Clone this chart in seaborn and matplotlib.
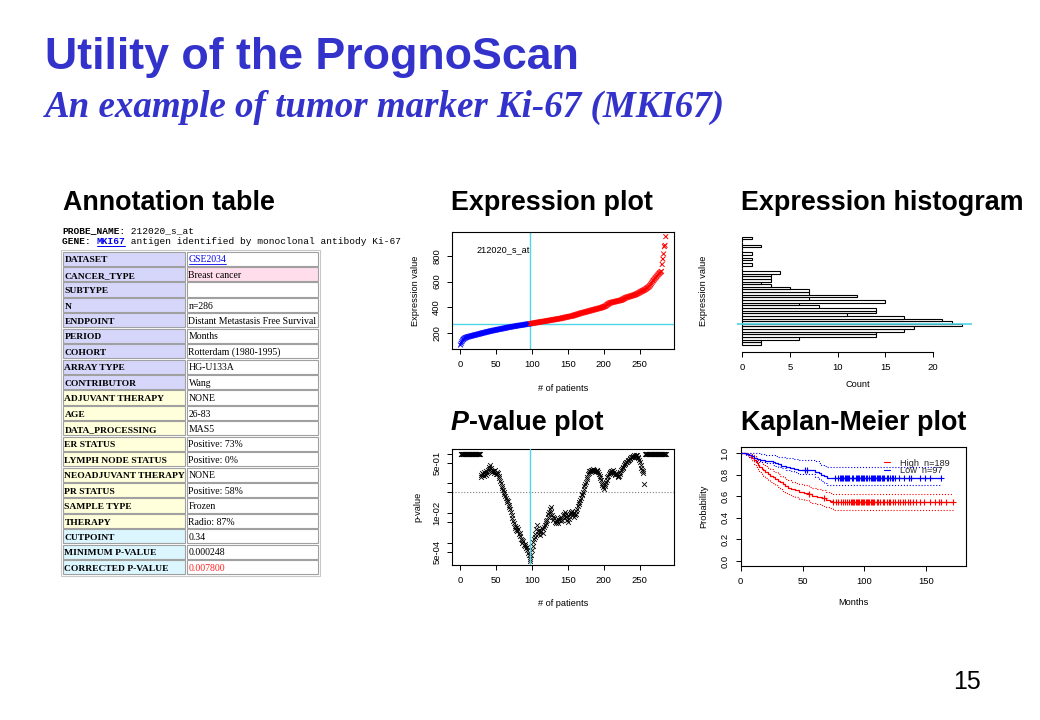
import numpy as np
import pandas as pd
import matplotlib
matplotlib.use("Agg")
import matplotlib.pyplot as plt
from matplotlib.patches import Rectangle
from matplotlib.lines import Line2D
from matplotlib.ticker import NullLocator, FixedLocator, FixedFormatter
import seaborn as sns

# ---------------------------------------------------------------- data
title_text = "Utility of the PrognoScan"
subtitle_text = "An example of tumor marker Ki-67 (MKI67)"
page_number = "15"

probe_name = "212020_s_at"
gene_symbol = "MKI67"
gene_desc = " antigen identified by monoclonal antibody Ki-67"

table_labels = ["DATASET", "CANCER_TYPE", "SUBTYPE", "N", "ENDPOINT", "PERIOD",
                "COHORT", "ARRAY TYPE", "CONTRIBUTOR", "ADJUVANT THERAPY", "AGE",
                "DATA_PROCESSING", "ER STATUS", "LYMPH NODE STATUS",
                "NEOADJUVANT THERAPY", "PR STATUS", "SAMPLE TYPE", "THERAPY",
                "CUTPOINT", "MINIMUM P-VALUE", "CORRECTED P-VALUE"]
table_values = ["GSE2034", "Breast cancer", "", "n=286",
                "Distant Metastasis Free Survival", "Months",
                "Rotterdam (1980-1995)", "HG-U133A", "Wang", "NONE", "26-83",
                "MAS5", "Positive: 73%", "Positive: 0%", "NONE", "Positive: 58%",
                "Frozen", "Radio: 87%", "0.34", "0.000248", "0.007800"]

# sorted expression values of the 286 patients
expression = [
    105, 119, 131, 142, 149, 154, 158, 161, 163, 166,
    168, 169, 171, 172, 174, 175, 177, 178, 180, 181, 183, 184, 185, 187,
    188, 190, 191, 193, 194, 196, 197, 199, 200, 201, 203, 204, 206, 207,
    208.5, 210, 211, 212, 214, 215, 216, 217, 219, 220, 221, 222, 223, 225, 226, 227, 228,
    229, 230, 231, 232, 234, 235, 236, 237, 238, 240, 241, 242, 243, 244, 245, 246, 247, 248,
    249.5, 250, 251, 252, 253, 254, 255, 256, 257, 258, 259, 259.5, 260, 261, 262, 263,
    264, 265, 266, 267, 268, 268.5, 269.5,
    270.5, 271, 272, 273, 274, 275, 276, 277, 278, 279, 280, 281, 282, 283, 284, 285,
    286, 287, 288, 289, 289.5, 290,
    291, 292, 293.5, 294, 295, 296.5, 297, 298, 299.5, 300, 301, 302.5, 303, 304, 305.5,
    306, 307, 308.5, 309, 310, 310.5,
    312, 313, 314.5, 316, 317, 318.5, 320, 321, 322, 323.5, 325, 326, 327, 328, 329, 330, 331,
    333, 335, 337, 338.5, 340, 342, 344, 345.5, 347, 349, 351,
    353, 354.5, 356, 357, 358.5, 360, 361.5, 363, 364.5, 366, 367.5, 369, 370.5, 372,
    374, 375.5, 377, 378.5, 380, 381.5, 383, 384.5, 386, 387.5, 389, 390.5, 392, 393,
    395, 397, 399, 401, 403, 405.5, 408, 411,
    416, 420, 424, 428, 431, 434,
    435.5, 437, 438, 439.5, 441, 442, 443.5, 445, 446, 447.5, 449, 450, 451.5, 453, 454.5,
    457, 460, 463, 466, 469, 472, 475,
    477, 478.5, 480, 482, 484, 485.5, 487, 489, 490.5, 492, 494, 496,
    498, 501, 504, 507, 510, 513, 516,
    519, 522, 525, 528, 531, 534, 537,
    540, 545, 549, 553, 557,
    562, 569, 576,
    585, 594,
    603, 609, 616,
    624, 630, 637,
    644, 651, 658,
    664, 669, 674, 679,
    733, 775, 815, 872, 882, 950]
n_low = 97
n_high = 189
cut_expression = 270
cut_index = 97
hist_bins = 41

# log10 p-value for every cut index 1..286
log10_pvalue = ([0.0] * 28 + [
    -0.72, -0.78, -0.66, -0.70, -0.62, -0.74, -0.68, -0.60, -0.71, -0.64, -0.55, -0.45,
    -0.52, -0.40, -0.58, -0.50, -0.63, -0.57, -0.66, -0.60, -0.55, -0.68,
    -0.62, -0.70, -0.66, -0.75, -0.82, -0.92, -1.00, -1.08, -1.15, -1.22,
    -1.30, -1.36, -1.42, -1.50, -1.56, -1.62, -1.58, -1.72, -1.80, -1.88,
    -1.98, -2.08, -2.18, -2.26, -2.35, -2.44, -2.52, -2.58, -2.48, -2.62,
    -2.55, -2.70, -2.66, -2.78, -2.86, -2.92, -3.00, -2.95, -3.08, -3.12,
    -3.05, -3.18, -3.25, -3.15, -3.35, -3.42, -3.55, -3.606, -3.40, -3.25,
    -3.10, -2.98, -2.88, -2.80, -2.72, -2.55, -2.40, -2.62, -2.70, -2.58,
    -2.65, -2.75, -2.60, -2.52, -2.66, -2.55, -2.48, -2.42, -2.35, -2.28,
    -2.22, -2.15, -2.05, -1.95, -1.85, -1.80, -1.98, -2.08, -2.15, -2.22,
    -2.18, -2.30, -2.25, -2.35, -2.28, -2.20, -2.32, -2.24, -2.18, -2.26,
    -2.12, -2.22, -2.08, -2.16, -2.02, -1.95, -2.05, -2.15, -2.25, -2.30,
    -2.20, -2.10, -2.02, -1.95, -2.00, -1.92, -2.05, -2.12, -2.00, -2.08,
    -2.02, -1.92, -1.85, -1.78, -1.70, -1.62, -1.55, -1.48, -1.40, -1.35,
    -1.28, -1.20, -1.10, -1.02, -0.95, -0.85, -0.78, -0.70, -0.65, -0.60,
    -0.58, -0.55, -0.60, -0.56, -0.52, -0.58, -0.55, -0.62, -0.57, -0.60,
    -0.55, -0.62, -0.68, -0.75, -0.82, -0.90, -0.98, -1.05, -1.12, -1.18,
    -1.10, -1.02, -0.95, -0.88, -0.80, -0.75, -0.70, -0.65, -0.62, -0.58,
    -0.64, -0.60, -0.55, -0.62, -0.68, -0.72, -0.65, -0.70, -0.76, -0.80,
    -0.74, -0.68, -0.62, -0.56, -0.52, -0.48, -0.44, -0.40, -0.36, -0.33,
    -0.30, -0.28, -0.25, -0.22, -0.20, -0.18, -0.15, -0.13, -0.10, -0.12,
    -0.08, -0.06, -0.10, -0.05, -0.08, -0.04, -0.10, -0.15, -0.22, -0.30,
    -0.40, -0.48, -0.55, -0.60, -0.66, -1.02] + [0.0] * 30)
p_threshold = 0.05
p_ticks = [1, 0.5, 0.1, 0.05, 0.01, 0.005, 0.001, 0.0005]
p_ticklabels = ["", "5e-01", "", "", "1e-02", "", "", "5e-04"]

# Kaplan-Meier curves (months, survival, 95% CI)
low_times = [0, 4, 7, 9, 11, 13, 16, 20, 26, 28, 30, 33, 37, 40, 43, 46, 60, 63, 65, 67, 70, 162]
low_surv = [1.0, .99, .979, .969, .958, .948, .938, .927, .917, .906, .896, .885, .875, .865,
            .854, .843, .829, .815, .801, .787, .774, .774]
low_upper = [1.0, 1.0, 1.0, 1.0, 1.0, .998, .993, .987, .979, .973, .968, .962, .956, .951,
             .945, .938, .925, .905, .89, .878, .868, .868]
low_lower = [1.0, .98, .965, .952, .94, .929, .918, .906, .894, .882, .871, .859, .847, .835,
             .823, .811, .78, .76, .74, .72, .70, .70]
low_censor = [52, 54, 76, 79, 80, 81, 82, 83, 84, 85, 86, 87, 88, 90, 91, 93, 94, 95, 96, 97,
              98, 99, 100, 101, 102, 104, 105, 106, 107, 108, 109, 110, 111, 112, 113, 114,
              115, 116, 118, 119, 121, 122, 123, 125, 128, 132, 136, 138, 145, 149, 153, 162]

high_times = [0, 4, 6, 8, 9, 11, 12, 13, 14, 15, 17, 18, 20, 22, 24, 26, 28, 30, 32, 34,
              36, 38, 41, 44, 47, 51, 55, 58, 62, 66, 69, 72, 75, 172]
high_surv = [1.0, .995, .984, .968, .952, .936, .92, .904, .888, .872, .856, .84, .824, .808,
             .792, .776, .76, .744, .728, .712, .696, .68, .667, .654, .641, .629, .617, .605,
             .593, .581, .569, .557, .545, .545]
high_upper = [1.0, 1.0, 1.0, .993, .983, .971, .959, .946, .933, .919, .906, .892, .878, .864,
              .85, .836, .821, .807, .792, .778, .763, .748, .736, .724, .712, .701, .689, .678,
              .666, .655, .644, .633, .622, .622]
high_lower = [1.0, .985, .966, .944, .923, .902, .882, .863, .844, .826, .807, .789, .771, .753,
              .736, .719, .701, .684, .667, .65, .633, .617, .603, .589, .576, .563, .55, .537,
              .524, .511, .499, .487, .475, .475]
high_censor = [55, 67, 75, 77, 79, 81, 83, 84, 86, 88, 89, 90, 91, 92, 93, 94, 95, 96, 97, 98,
               99, 100, 101, 102, 103, 104, 105, 106, 107, 108, 110, 111, 113, 115, 116, 118,
               120, 121, 123, 125, 127, 129, 131, 133, 135, 137, 139, 142, 145, 148, 153, 157,
               160, 162, 166, 172]
km_labels = [f"High  n={n_high}", f"Low  n={n_low}"]

# ---------------------------------------------------------------- style
sns.set_theme(style="white")
plt.rcParams['font.family'] = ['Liberation Sans', 'DejaVu Sans']
BLUE_T = '#3333CC'
CYAN = '#4FD6E8'
W, H = 1040, 720
TICK_FS = 6.8
LAB_FS = 6.6

fig = plt.figure(figsize=(W / 100, H / 100), dpi=100)
fig.patch.set_facecolor('white')
ov = fig.add_axes([0, 0, 1, 1])
ov.set_xlim(0, W)
ov.set_ylim(H, 0)
ov.axis('off')
renderer = fig.canvas.get_renderer()


def fit_text(x, y, s, width, **kw):
    t = ov.text(x, y, s, va='baseline', **kw)
    w = t.get_window_extent(renderer).width
    t.set_fontsize(t.get_fontsize() * width / w)
    return t


def px_rect(x0, y0, x1, y1):
    return [x0 / W, 1 - y1 / H, (x1 - x0) / W, (y1 - y0) / H]


# titles
fit_text(45, 69, title_text, 535, fontsize=30, fontweight='bold', color=BLUE_T,
         family='Liberation Sans')
fit_text(45, 117, subtitle_text, 682, fontsize=28, fontweight='bold', style='italic',
         color=BLUE_T, family='Liberation Serif')

hdr = fit_text(741, 210, "Expression histogram", 282, fontsize=19, fontweight='bold',
               color='black', family='Liberation Sans')
hfs = hdr.get_fontsize()
hkw = dict(fontsize=hfs, fontweight='bold', color='black', family='Liberation Sans', va='baseline')
ov.text(63, 210, "Annotation table", **hkw)
ov.text(451, 210, "Expression plot", **hkw)
tp = ov.text(451, 430, "P", style='italic', **hkw)
wp = tp.get_window_extent(renderer).width
ov.text(451 + wp, 430, "-value plot", **hkw)
ov.text(741, 430, "Kaplan-Meier plot", **hkw)
ov.text(981, 689, page_number, fontsize=18, ha='right', va='baseline', color='black',
        family='Liberation Sans')

# ---------------------------------------------------------------- annotation table
mono = dict(fontsize=6.8, family='Liberation Mono', va='baseline', color='black')
probe_lbl = "PROBE_NAME:"
tt = ov.text(62, 233, "M" * 10, alpha=0, **mono)
cw = tt.get_window_extent(renderer).width / 10
ov.text(62, 233, probe_lbl, fontweight='bold', **mono)
ov.text(62 + len(probe_lbl) * cw, 233, " " + probe_name, **mono)
gene_lbl = "GENE: "
ov.text(62, 244.5, gene_lbl, fontweight='bold', **mono)
gx = 62 + len(gene_lbl) * cw
mono_b = dict(mono)
mono_b['color'] = '#0000EE'
ov.text(gx, 244.5, gene_symbol, fontweight='bold', **mono_b)
ov.plot([gx, gx + len(gene_symbol) * cw], [246, 246], color='#0000EE', lw=0.7)
ov.text(gx + len(gene_symbol) * cw, 244.5, gene_desc, **mono)

label_colors = ['#D6D6FA'] * 9 + ['#FFFFDC'] * 9 + ['#DCF6FF'] * 3
value_colors = ['white', '#FFDDEB'] + ['white'] * 19
value_text_colors = ['#0000EE'] + ['black'] * 19 + ['#FF2020']
top, pitch = 251.0, 15.43
c0, c1, c2 = 62.5, 186.0, 318.5
ov.add_patch(Rectangle((61.3, top - 1.2), c2 - 61.3 + 1.2, pitch * len(table_labels) + 2.2,
                       facecolor='none', edgecolor='#C8C8C8', lw=0.8))
for i, (lab, val) in enumerate(zip(table_labels, table_values)):
    y0 = top + i * pitch
    ov.add_patch(Rectangle((c0, y0 + 0.5), c1 - c0 - 1.0, pitch - 1.2,
                           facecolor=label_colors[i], edgecolor='#A0A0A0', lw=0.8))
    ov.add_patch(Rectangle((c1 + 0.5, y0 + 0.5), c2 - c1 - 1.0, pitch - 1.2,
                           facecolor=value_colors[i], edgecolor='#A0A0A0', lw=0.8))
    ov.text(c0 + 2, y0 + 11.3, lab, fontsize=6.8, fontweight='bold', family='Liberation Serif',
            va='baseline', color='black')
    tv = ov.text(c1 + 2.5, y0 + 11.3, val, fontsize=7, family='Liberation Serif',
                 va='baseline', color=value_text_colors[i])
    if i == 0:
        wv = tv.get_window_extent(renderer).width
        ov.plot([c1 + 2.5, c1 + 2.5 + wv], [y0 + 12.6, y0 + 12.6], color='#0000EE', lw=0.6)


# ---------------------------------------------------------------- helpers for R-like axes
def r_axes(ax, box=True):
    for s in ax.spines.values():
        s.set_color('black')
        s.set_linewidth(0.8)
        s.set_visible(box)
    ax.set_facecolor('white')
    ax.tick_params(axis='both', direction='out', length=3.5, width=0.7, color='black',
                   labelsize=TICK_FS, pad=4.5, labelcolor='black', bottom=True, left=True)
    ax.tick_params(axis='y', labelrotation=90)
    for lab in ax.get_yticklabels():
        lab.set_va('center')
    ax.grid(False)


def labels(ax, xl, yl, xpos, ypos):
    ax.set_xlabel(xl, fontsize=LAB_FS, color='black', va='center')
    ax.set_ylabel(yl, fontsize=LAB_FS, color='black', va='center')
    ax.xaxis.set_label_coords(*xpos)
    ax.yaxis.set_label_coords(*ypos)


expr = np.array(expression, dtype=float)
idx = np.arange(1, len(expr) + 1)
rng = expr.max() - expr.min()
ylim_expr = (expr.min() - 0.04 * rng, expr.max() + 0.04 * rng)
xlim_idx = (1 - 0.04 * (len(expr) - 1), len(expr) + 0.04 * (len(expr) - 1))

# ---------------------------------------------------------------- expression plot
ax1 = fig.add_axes(px_rect(452.3, 232.3, 674, 349.3))
df_e = pd.DataFrame({'patient': idx, 'expr': expr,
                     'group': np.where(idx <= n_low, 'Low', 'High')})
sns.scatterplot(data=df_e, x='patient', y='expr', hue='group',
                palette={'Low': '#0000FF', 'High': '#FF0000'}, marker='x', s=12,
                linewidth=0.7, legend=False, ax=ax1, zorder=3)
ax1.axvline(cut_index, color=CYAN, lw=1.0, zorder=2)
ax1.axhline(cut_expression, color=CYAN, lw=1.0, zorder=2)
ax1.set_xlim(*xlim_idx)
ax1.set_ylim(*ylim_expr)
ax1.set_xticks([0, 50, 100, 150, 200, 250])
ax1.set_yticks([200, 400, 600, 800])
ax1.text(0.107, 0.853, probe_name, transform=ax1.transAxes, fontsize=6.6, va='center',
         color='black')
r_axes(ax1)
labels(ax1, "# of patients", "Expression value", (0.5, -0.333), (-0.168, 0.5))

# ---------------------------------------------------------------- histogram
ax2 = fig.add_axes(px_rect(737, 232.3, 972, 349.3))
sns.histplot(y=expr, bins=hist_bins, color='white', edgecolor='black', linewidth=0.8,
             alpha=1, ax=ax2)
ax2.axhline(cut_expression, color=CYAN, lw=1.2, zorder=5)
ax2.set_xlim(-0.556, 24.1)
ax2.set_ylim(*ylim_expr)
ax2.set_xticks([0, 5, 10, 15, 20])
ax2.set_yticks([])
r_axes(ax2, box=False)
ax2.spines['bottom'].set_visible(True)
ax2.spines['bottom'].set_bounds(0, 20)
ax2.spines['bottom'].set_position(('outward', 1.7))
ax2.tick_params(axis='y', left=False)
labels(ax2, "Count", "Expression value", (0.515, -0.305), (-0.143, 0.5))

# ---------------------------------------------------------------- p-value plot
ax3 = fig.add_axes(px_rect(452.3, 449.3, 674, 565))
lp = np.array(log10_pvalue)
pv = 10 ** lp
sns.scatterplot(x=idx, y=pv, marker='x', color='black', s=12, linewidth=0.6,
                legend=False, ax=ax3, zorder=3)
ax3.set_yscale('log')
lrng = lp.max() - lp.min()
ax3.set_ylim(10 ** (lp.min() - 0.04 * lrng), 10 ** (lp.max() + 0.04 * lrng))
ax3.set_xlim(*xlim_idx)
ax3.axhline(p_threshold, color='#808080', ls=':', lw=0.8, zorder=2)
ax3.axvline(cut_index, color=CYAN, lw=1.0, zorder=4)
ax3.yaxis.set_major_locator(FixedLocator(p_ticks))
ax3.yaxis.set_major_formatter(FixedFormatter(p_ticklabels))
ax3.yaxis.set_minor_locator(NullLocator())
ax3.set_xticks([0, 50, 100, 150, 200, 250])
r_axes(ax3)
labels(ax3, "# of patients", "p-value", (0.5, -0.331), (-0.153, 0.5))

# ---------------------------------------------------------------- Kaplan-Meier plot
ax4 = fig.add_axes(px_rect(740.7, 447.3, 965.7, 566))
for times, surv, up, lo, cens, col in [
        (high_times, high_surv, high_upper, high_lower, high_censor, '#FF0000'),
        (low_times, low_surv, low_upper, low_lower, low_censor, '#0000FF')]:
    km = pd.DataFrame({'t': times, 's': surv, 'u': up, 'l': lo})
    sns.lineplot(data=km, x='t', y='s', drawstyle='steps-post', color=col, lw=0.9,
                 estimator=None, ax=ax4, zorder=3)
    sns.lineplot(data=km, x='t', y='u', drawstyle='steps-post', color=col, lw=0.8,
                 linestyle=':', estimator=None, ax=ax4, zorder=2)
    sns.lineplot(data=km, x='t', y='l', drawstyle='steps-post', color=col, lw=0.8,
                 linestyle=':', estimator=None, ax=ax4, zorder=2)
    ct = np.array(cens, dtype=float)
    pos = np.searchsorted(np.array(times, dtype=float), ct, side='right') - 1
    cs = np.array(surv)[pos]
    sns.scatterplot(x=ct, y=cs, marker='+', color=col, s=16, linewidth=0.8,
                    legend=False, ax=ax4, zorder=4)
ax4.set_xlim(0, 182)
ax4.set_ylim(-0.046, 1.054)
ax4.set_xticks([0, 50, 100, 150])
ax4.set_yticks([0.0, 0.2, 0.4, 0.6, 0.8, 1.0])
ax4.set_yticklabels(["0.0", "0.2", "0.4", "0.6", "0.8", "1.0"])
ax4.set_xlabel("")
ax4.set_ylabel("")
r_axes(ax4)
labels(ax4, "Months", "Probability", (0.5, -0.31), (-0.166, 0.5))
handles = [Line2D([0], [0], color='#FF0000', lw=0.8), Line2D([0], [0], color='#0000FF', lw=0.8)]
ax4.legend(handles, km_labels, loc='upper left', bbox_to_anchor=(0.635, 0.905), frameon=False,
           fontsize=6.6, handlelength=0.7, handletextpad=1.1, labelspacing=-0.2,
           borderpad=0, borderaxespad=0)

fig.savefig("out.png", dpi=100)
